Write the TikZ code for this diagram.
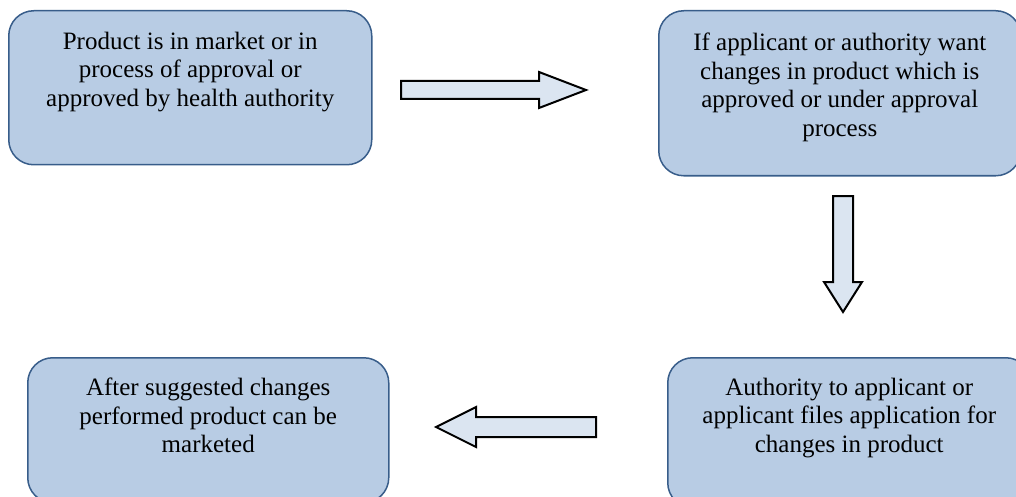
\documentclass[tikz,border=0pt]{standalone}
\usepackage{fontspec}
\setmainfont{Liberation Serif}
\usetikzlibrary{positioning}
\definecolor{boxfill}{HTML}{B8CCE4}
\definecolor{boxline}{HTML}{385D8A}
\definecolor{arrfill}{HTML}{DBE5F1}
\tikzset{
	stepbox/.style={draw=boxline, line width=1.5pt, fill=boxfill, rounded corners=25pt, inner sep=0pt, anchor=north west},
	steptext/.style={align=center, inner sep=0pt, anchor=north, font=\fontsize{25}{28.75}\selectfont},
	blockarr/.style={draw=black, line width=2pt, fill=arrfill, line join=miter}
}
\begin{document}
\begin{tikzpicture}[x=1pt, y=-1pt]
		%%%%% START %%%%%
		\useasboundingbox (0,0) rectangle (1016,497);
		\clip (0,0) rectangle (1016,497);
		
		% boxes
		\node[stepbox, minimum width=363pt, minimum height=154pt] (b1) at (8,10) {};
		\node[stepbox, minimum width=362pt, minimum height=165pt] (b2) at (658,10) {};
		\node[stepbox, minimum width=363pt, minimum height=150pt] (b3) at (667,357) {};
		\node[stepbox, minimum width=361pt, minimum height=145pt] (b4) at (27,357) {};
		
		% texts
		\node[steptext] (t1) at ([yshift=-21.5pt]b1.north) {Product is in market or in\\process of approval or\\approved by health authority};
		\node[steptext] (t2) at ([yshift=-22.5pt]b2.north) {If applicant or authority want\\changes in product which is\\approved or under approval\\process};
		\node[steptext] (t3) at ([yshift=-20.5pt]b3.north) {Authority to applicant or\\applicant files application for\\changes in product};
		\node[steptext] (t4) at ([yshift=-20.5pt]b4.north) {After suggested changes\\performed product can be\\marketed};
		
		% block arrows
		\coordinate (a1s) at (401,90);
		\coordinate (a1e) at (586,90);
		\draw[blockarr] (a1s) ++(0,-9) -- ++(138,0) -- ++(0,-9) -- (a1e) -- ++(-47,18) -- ++(0,-9) -- ++(-138,0) -- cycle;
		
		\coordinate (a2s) at (843,196);
		\coordinate (a2e) at (843,312);
		\draw[blockarr] (a2s) ++(-10,0) -- ++(0,86) -- ++(-9,0) -- (a2e) -- ++(19,-30) -- ++(-9,0) -- ++(0,-86) -- cycle;
		
		\coordinate (a3s) at (596,427);
		\coordinate (a3e) at (436,427);
		\draw[blockarr] (a3s) ++(0,-10) -- ++(-120,0) -- ++(0,-10) -- (a3e) -- ++(40,20) -- ++(0,-10) -- ++(120,0) -- cycle;
		
		%%%%% END %%%%%
	\end{tikzpicture}
\end{document}
